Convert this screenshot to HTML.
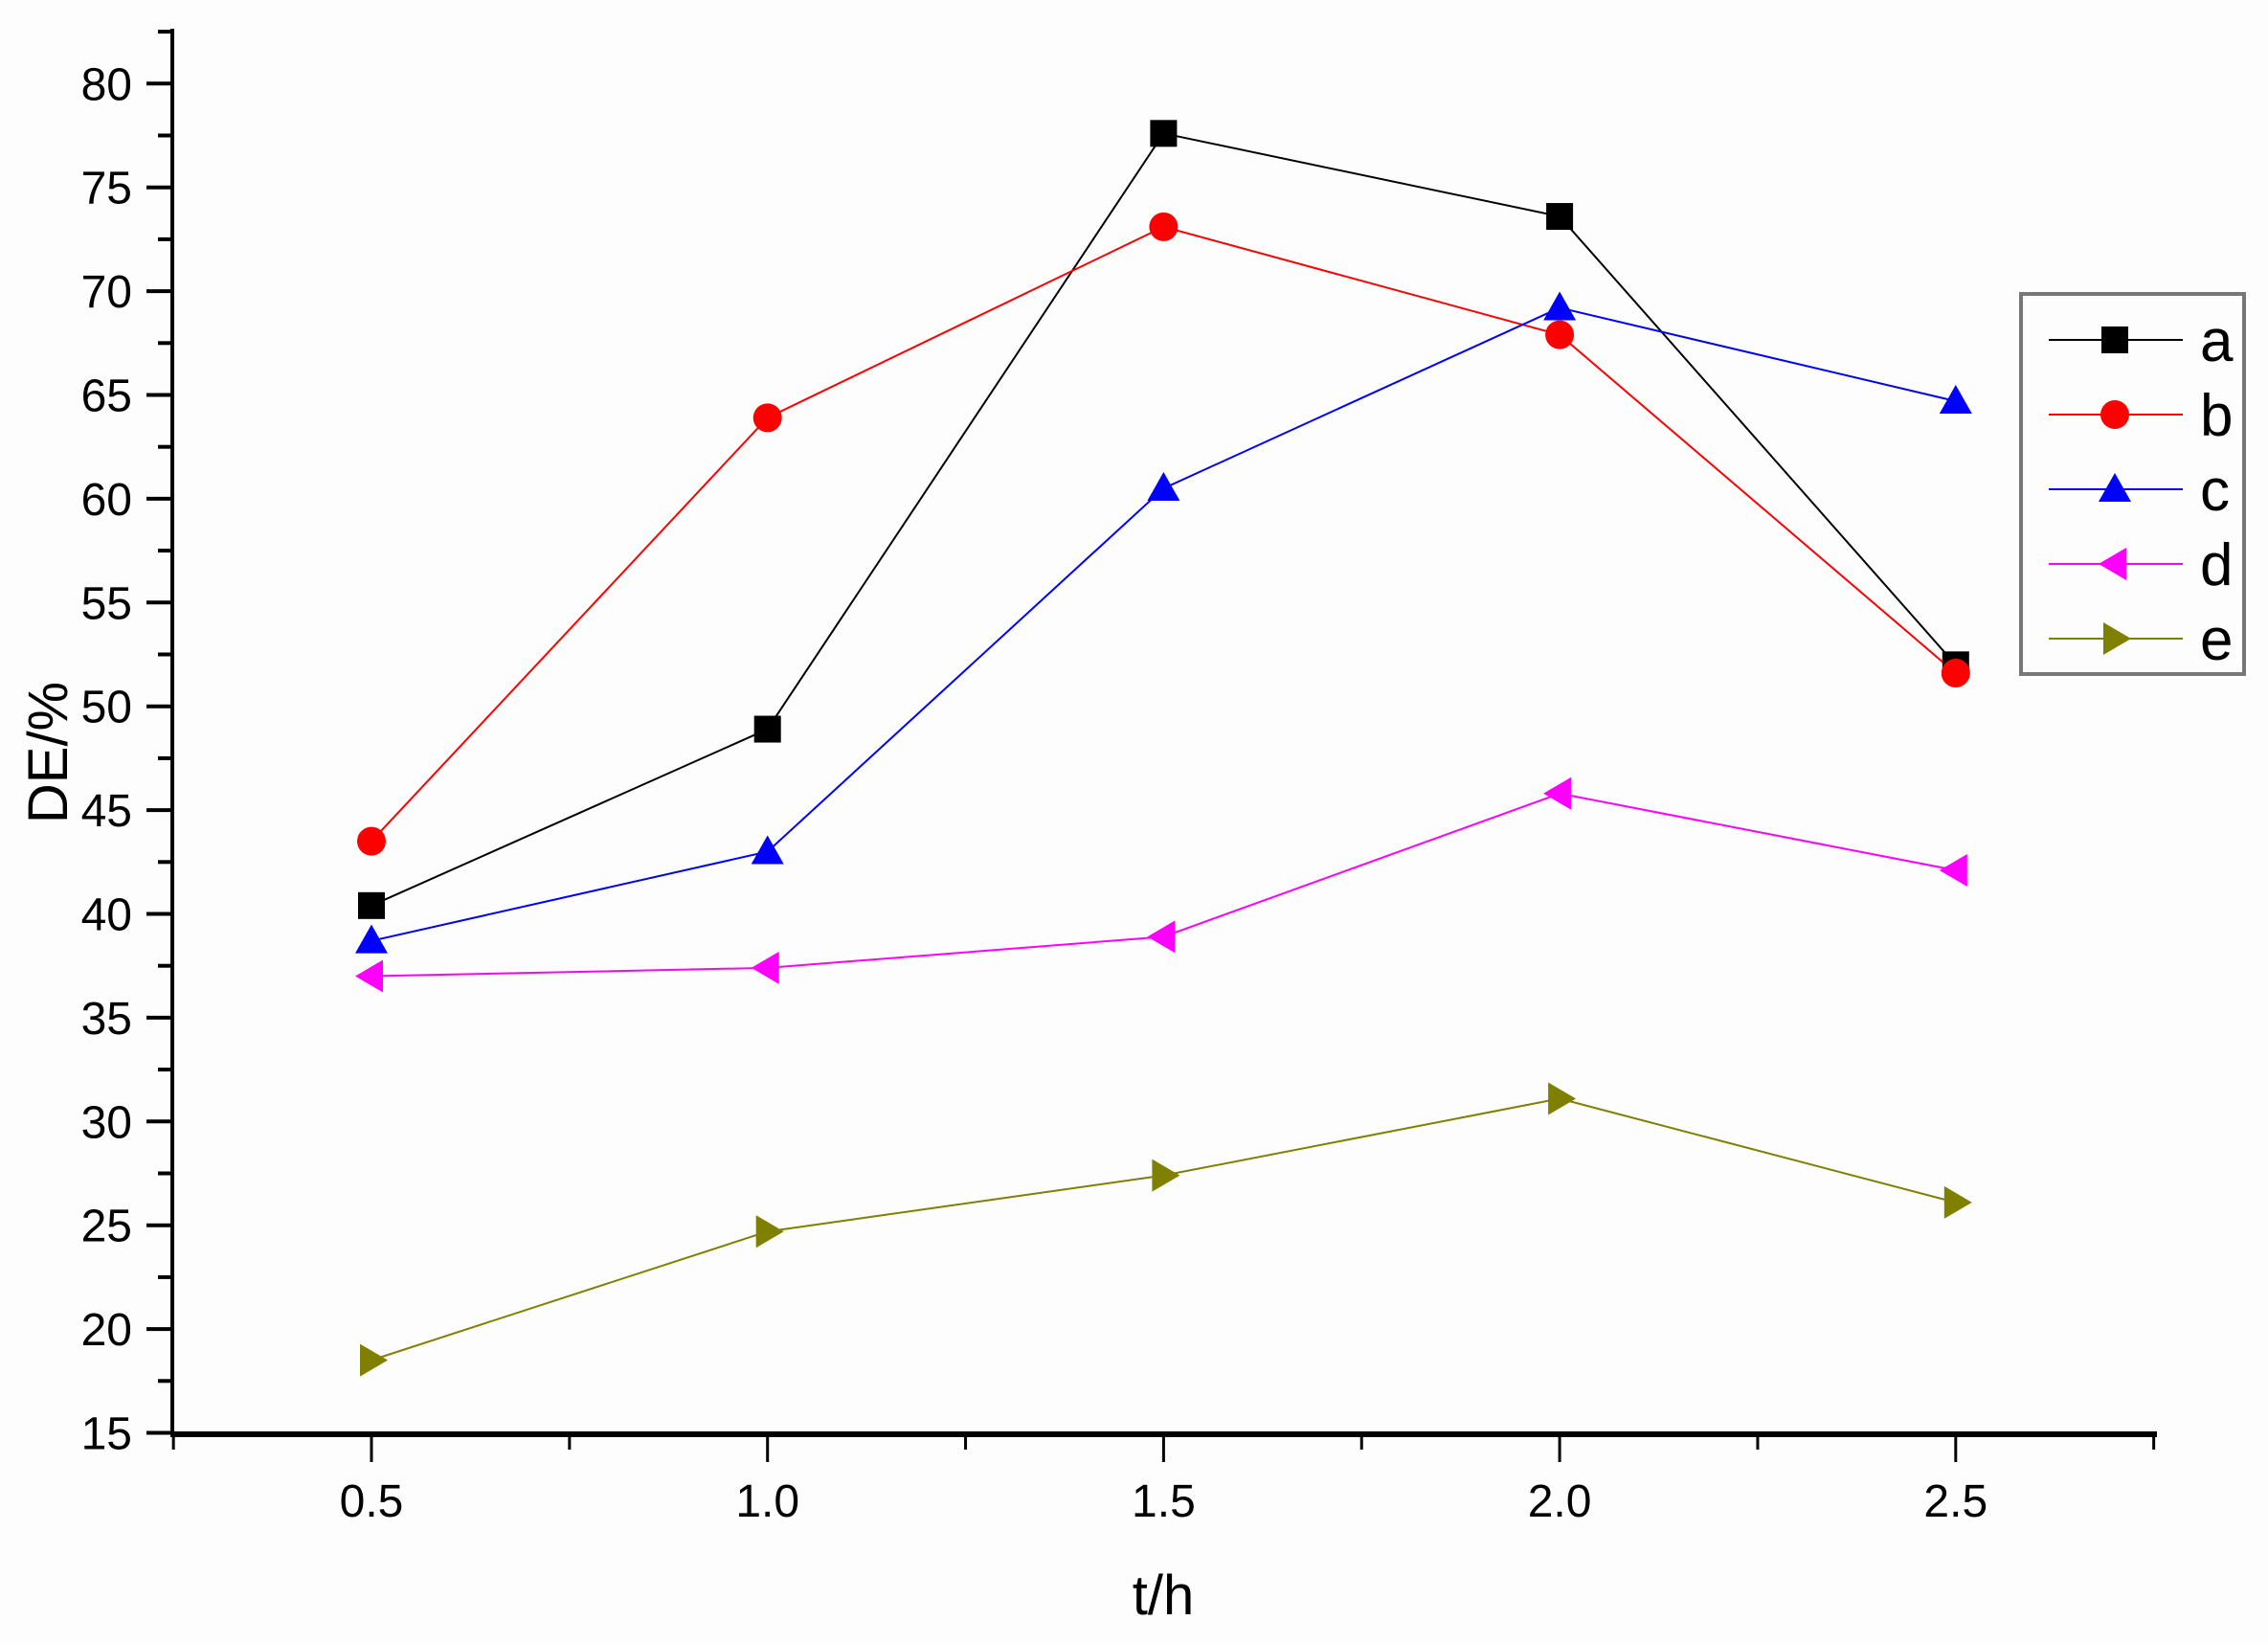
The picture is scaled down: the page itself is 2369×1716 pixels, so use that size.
<!DOCTYPE html>
<html><head><meta charset="utf-8"><style>body{margin:0;background:#fdfdfd}svg{display:block}</style></head><body>
<svg width="2369" height="1716" xmlns="http://www.w3.org/2000/svg" font-family="Liberation Sans, sans-serif">
<rect width="2369" height="1716" fill="#fdfdfd"/>
<g id="axes" stroke="#000">
<line x1="180" y1="30" x2="180" y2="1499" stroke-width="4"/>
<line x1="178" y1="1498" x2="2253" y2="1498" stroke-width="6"/>
</g>
<g id="yt" stroke="#000" stroke-width="4"></g>
<g id="xt" stroke="#000" stroke-width="3"></g>
<g id="ylab" font-size="48" text-anchor="end" fill="#000"></g>
<g id="xlab" font-size="48" text-anchor="middle" fill="#000"></g>
<text x="1215" y="1686" font-size="58" text-anchor="middle">t/h</text>
<text transform="translate(70,786) rotate(-90)" font-size="58" text-anchor="middle">DE/%</text>
<g id="series"></g>
<rect x="2111" y="307" width="233" height="397" fill="none" stroke="#777" stroke-width="4"/>
<g id="legend" font-size="62"></g>
<script>
const X=v=>388+(v-0.5)*827.4, Y=v=>87.3+(80-v)*21.68;
const ns="http://www.w3.org/2000/svg";
function el(p,t,a,txt){const e=document.createElementNS(ns,t);for(const k in a)e.setAttribute(k,a[k]);if(txt!==undefined)e.textContent=txt;document.getElementById(p).appendChild(e);return e;}
for(let v=15;v<=82.5;v+=2.5){const y=Y(v),maj=v%5==0;el('yt','line',{x1:maj?153:165,y1:y,x2:180,y2:y});if(maj)el('ylab','text',{x:138,y:y+17},v);}
for(let i=0;i<=10;i++){const v=0.25+i*0.25,x=X(v),maj=i%2==1;el('xt','line',{x1:x,y1:1498,x2:x,y2:maj?1527:1514});if(maj)el('xlab','text',{x:x,y:1584},v.toFixed(1));}
const xs=[0.5,1,1.5,2,2.5];
const S=[
['a','#000',[40.4,48.9,77.6,73.6,52.0],'sq'],
['b','#f00',[43.5,63.9,73.1,67.9,51.6],'ci'],
['c','#00f',[38.7,43.0,60.5,69.2,64.7],'up'],
['d','#f0f',[37.0,37.4,38.9,45.8,42.1],'lt'],
['e','#808000',[18.5,24.7,27.4,31.1,26.1],'rt']];
function mk(p,t,x,y,c){
 if(t=='sq')el(p,'rect',{x:x-14,y:y-14,width:28,height:28,fill:c});
 else if(t=='ci')el(p,'circle',{cx:x,cy:y,r:15,fill:c});
 else if(t=='up')el(p,'polygon',{points:`${x},${y-17} ${x-17},${y+13} ${x+17},${y+13}`,fill:c});
 else if(t=='lt')el(p,'polygon',{points:`${x-17},${y} ${x+12},${y-17} ${x+12},${y+17}`,fill:c});
 else el(p,'polygon',{points:`${x+17},${y} ${x-12},${y-17} ${x-12},${y+17}`,fill:c});
}
for(const s of S){el('series','polyline',{points:xs.map((v,i)=>X(v)+','+Y(s[2][i])).join(' '),fill:'none',stroke:s[1],'stroke-width':2});}
for(const s of S){xs.forEach((v,i)=>mk('series',s[3],X(v),Y(s[2][i]),s[1]));}
S.forEach((s,i)=>{const y=355+i*78;el('legend','line',{x1:2140,y1:y,x2:2280,y2:y,stroke:s[1],'stroke-width':2});mk('legend',s[3],2209,y,s[1]);el('legend','text',{x:2298,y:y+22},s[0]);});
</script>
</svg>
</body></html>
